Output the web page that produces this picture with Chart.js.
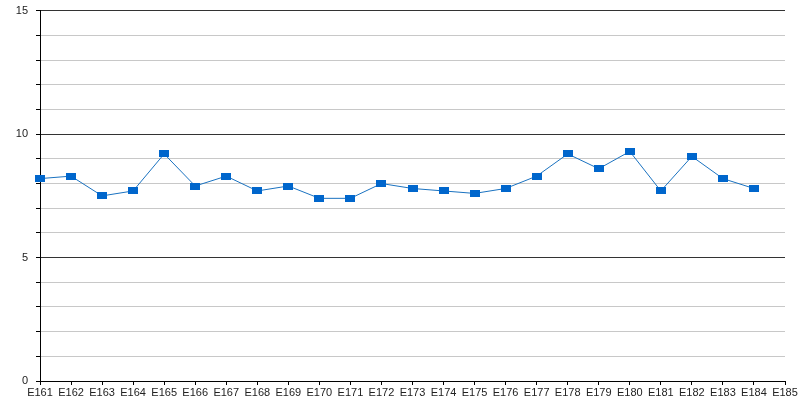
<!DOCTYPE html>
<html>
<head>
<meta charset="utf-8">
<script src="https://cdn.jsdelivr.net/npm/chart.js@4/dist/chart.umd.min.js"></script>
<style>
  html, body { margin: 0; padding: 0; background: #fff; }
  #wrap { width: 800px; height: 400px; }
</style>
</head>
<body>
<div id="wrap"><canvas id="grafico"></canvas></div>
<script>
const categorias = ['E161', 'E162', 'E163', 'E164', 'E165', 'E166', 'E167', 'E168', 'E169', 'E170',
  'E171', 'E172', 'E173', 'E174', 'E175', 'E176', 'E177', 'E178', 'E179', 'E180',
  'E181', 'E182', 'E183', 'E184', 'E185'];
const valores = [8.2, 8.3, 7.5, 7.7, 9.2, 7.9, 8.3, 7.7, 7.9, 7.4,
  7.4, 8.0, 7.8, 7.7, 7.6, 7.8, 8.3, 9.2, 8.6, 9.3,
  7.7, 9.1, 8.2, 7.8, null];
const ticksY = [0, 5, 10, 15];

// marcador rectangular ancho
const marca = document.createElement('canvas');
marca.width = 10;
marca.height = 7;
const mctx = marca.getContext('2d');
mctx.fillStyle = '#0066cc';
mctx.fillRect(0, 0, 10, 7);

const fuente = { family: 'Liberation Sans, Arial, sans-serif', size: 11 };

new Chart(document.querySelector('#grafico'), {
  type: 'line',
  data: {
    labels: categorias,
    datasets: [
      {
        data: valores,
        borderColor: '#1a72c0',
        borderWidth: 1,
        pointStyle: marca,
        pointRadius: 5,
        pointHoverRadius: 5,
        tension: 0,
        spanGaps: false
      }
    ]
  },
  options: {
    responsive: true,
    maintainAspectRatio: false,
    animation: false,
    events: [],
    layout: { padding: { top: 0, right: 15, bottom: 0, left: 0 } },
    plugins: {
      legend: { display: false },
      tooltip: { enabled: false }
    },
    scales: {
      x: {
        offset: false,
        border: { color: '#000', width: 1 },
        grid: { drawOnChartArea: false, drawTicks: true, tickLength: 4, tickColor: '#000' },
        ticks: { autoSkip: false, maxRotation: 0, padding: 1, color: '#222', font: fuente },
        afterFit: (eje) => { eje.height = 19; }
      },
      y: {
        min: 0,
        max: 15,
        border: { color: '#000', width: 1 },
        grid: {
          color: (ctx) => (ctx.tick && ticksY.includes(ctx.tick.value) ? '#333' : '#c8c8c8'),
          tickLength: 4,
          tickColor: '#000'
        },
        ticks: {
          stepSize: 1,
          padding: 8,
          color: '#222',
          font: { ...fuente, lineHeight: 0.5 },
          callback: (v) => (ticksY.includes(v) ? v : '')
        },
        afterFit: (eje) => { eje.width = 40; }
      }
    }
  }
});
</script>
</body>
</html>
